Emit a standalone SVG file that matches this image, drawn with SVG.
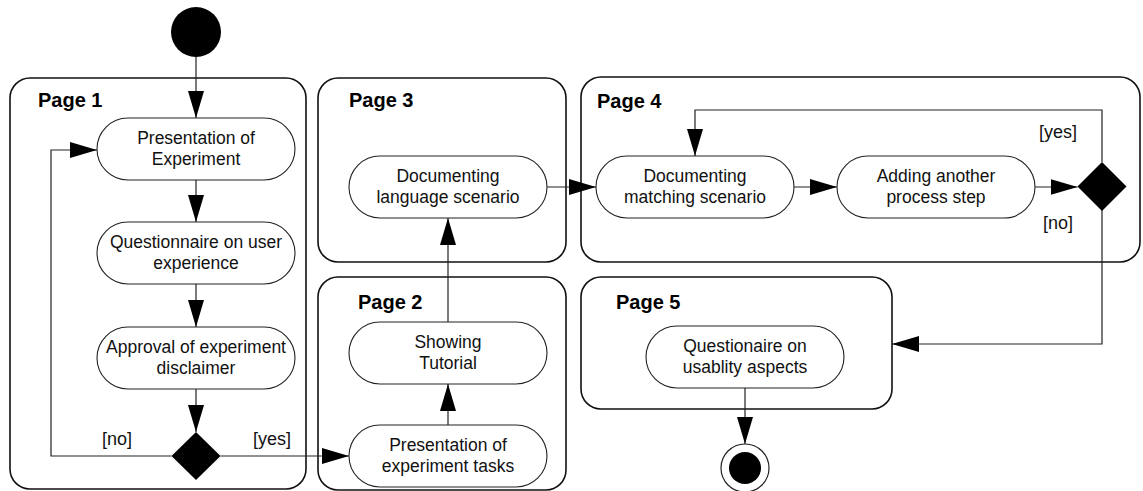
<svg xmlns="http://www.w3.org/2000/svg" width="1143" height="491" viewBox="0 0 1143 491">
  <style>
    .frame { fill: none; stroke: #111; stroke-width: 1.6; }
    .act { fill: #fff; stroke: #222; stroke-width: 1.1; }
    .title { font-family: "Liberation Sans", Arial, sans-serif; font-weight: bold; font-size: 20px; fill: #000; }
    .lbl { font-family: "Liberation Sans", Arial, sans-serif; font-size: 17.5px; fill: #111; text-anchor: middle; }
    .guard { font-family: "Liberation Sans", Arial, sans-serif; font-size: 18px; fill: #111; }
    .edge { fill: none; stroke: #222; stroke-width: 1.2; }
    .arrow { marker-end: url(#head); }
    .solid { fill: #000; }
  </style>
  <defs>
    <marker id="head" markerUnits="userSpaceOnUse" markerWidth="28" markerHeight="16" refX="27" refY="8" orient="auto">
      <path d="M0,0 L27,8 L0,16 Z" fill="#000"/>
    </marker>
  </defs>

  <!-- page frames -->
  <g id="page1">
    <rect class="frame" x="10" y="78" width="296" height="411" rx="20"/>
    <text class="title" x="38" y="107">Page 1</text>
  </g>
  <g id="page3">
    <rect class="frame" x="318" y="78" width="248" height="184" rx="20"/>
    <text class="title" x="349" y="107">Page 3</text>
  </g>
  <g id="page2">
    <rect class="frame" x="318" y="277" width="248" height="213" rx="20"/>
    <text class="title" x="358" y="309">Page 2</text>
  </g>
  <g id="page4">
    <rect class="frame" x="581" y="77" width="559" height="185" rx="20"/>
    <text class="title" x="597" y="108">Page 4</text>
  </g>
  <g id="page5">
    <rect class="frame" x="581" y="277" width="311" height="132" rx="20"/>
    <text class="title" x="616" y="309">Page 5</text>
  </g>

  <!-- connectors -->
  <g id="connectors">
    <path class="edge arrow" d="M196,57 V118"/>
    <path class="edge arrow" d="M196,180 V222"/>
    <path class="edge arrow" d="M196,284 V327"/>
    <path class="edge arrow" d="M196,389 V432"/>
    <path class="edge arrow" d="M171.5,456 H51 V150 H97"/>
    <path class="edge arrow" d="M220.5,456 H349"/>
    <path class="edge arrow" d="M448,425 V384"/>
    <path class="edge arrow" d="M448,322 V218"/>
    <path class="edge arrow" d="M547,187 H596"/>
    <path class="edge arrow" d="M794,187 H837"/>
    <path class="edge arrow" d="M1035,187 H1077.5"/>
    <path class="edge arrow" d="M1102,162 V110 H695 V156"/>
    <path class="edge arrow" d="M1102,210 V344 H892"/>
    <path class="edge arrow" d="M745,388 V444"/>
    <text class="guard" x="102" y="445">[no]</text>
    <text class="guard" x="253" y="445">[yes]</text>
    <text class="guard" x="1039" y="138">[yes]</text>
    <text class="guard" x="1043" y="229">[no]</text>
  </g>

  <!-- start / end -->
  <g id="start">
    <circle class="solid" cx="196" cy="32" r="25"/>
  </g>
  <g id="end">
    <circle cx="745" cy="468" r="24" fill="#fff" stroke="#222" stroke-width="1.2"/>
    <circle class="solid" cx="745" cy="468" r="16"/>
  </g>

  <!-- activities -->
  <g id="presentation-experiment">
    <rect class="act" x="97" y="118" width="198" height="62" rx="31"/>
    <text class="lbl" x="196" y="144">Presentation of</text>
    <text class="lbl" x="196" y="165">Experiment</text>
  </g>
  <g id="questionnaire-user">
    <rect class="act" x="97" y="222" width="198" height="62" rx="31"/>
    <text class="lbl" x="196" y="248">Questionnaire on user</text>
    <text class="lbl" x="196" y="269">experience</text>
  </g>
  <g id="approval-disclaimer">
    <rect class="act" x="97" y="327" width="198" height="62" rx="31"/>
    <text class="lbl" x="196" y="353">Approval of experiment</text>
    <text class="lbl" x="196" y="374">disclaimer</text>
  </g>
  <g id="decision-approval">
    <path class="solid" d="M196,432 L220.5,456 L196,480 L171.5,456 Z"/>
  </g>
  <g id="presentation-tasks">
    <rect class="act" x="349" y="425" width="198" height="62" rx="31"/>
    <text class="lbl" x="448" y="451">Presentation of</text>
    <text class="lbl" x="448" y="472">experiment tasks</text>
  </g>
  <g id="showing-tutorial">
    <rect class="act" x="349" y="322" width="198" height="62" rx="31"/>
    <text class="lbl" x="448" y="348">Showing</text>
    <text class="lbl" x="448" y="369">Tutorial</text>
  </g>
  <g id="documenting-language">
    <rect class="act" x="349" y="156" width="198" height="62" rx="31"/>
    <text class="lbl" x="448" y="182">Documenting</text>
    <text class="lbl" x="448" y="203">language scenario</text>
  </g>
  <g id="documenting-matching">
    <rect class="act" x="596" y="156" width="198" height="62" rx="31"/>
    <text class="lbl" x="695" y="182">Documenting</text>
    <text class="lbl" x="695" y="203">matching scenario</text>
  </g>
  <g id="adding-step">
    <rect class="act" x="837" y="156" width="198" height="62" rx="31"/>
    <text class="lbl" x="936" y="182">Adding another</text>
    <text class="lbl" x="936" y="203">process step</text>
  </g>
  <g id="decision-another">
    <path class="solid" d="M1102,162 L1126.5,186.5 L1102,211 L1077.5,186.5 Z"/>
  </g>
  <g id="questionaire-usability">
    <rect class="act" x="646" y="326" width="198" height="62" rx="31"/>
    <text class="lbl" x="745" y="352">Questionaire on</text>
    <text class="lbl" x="745" y="373">usablity aspects</text>
  </g>
</svg>
